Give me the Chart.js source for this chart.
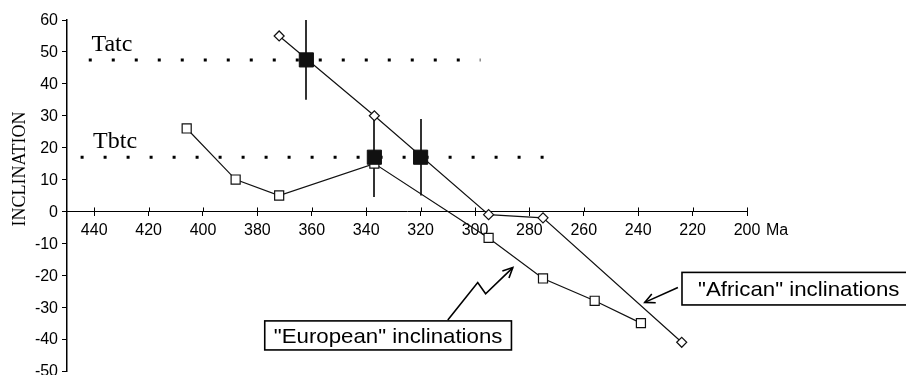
<!DOCTYPE html>
<html><head><meta charset="utf-8">
<script src="https://cdn.jsdelivr.net/npm/chart.js@4/dist/chart.umd.min.js"></script>
<style>html,body{margin:0;padding:0;background:#fff;}</style>
</head><body>
<canvas id="c" width="906" height="375" style="width:906px;height:375px;display:block"></canvas>
<script>
// ---- data ----
const europeanAge = [406, 388, 372, 337, 295, 275, 256, 239];
const europeanInc = [26, 10, 5, 15, -8.3, -21, -28, -35];
const africanAge = [372, 337, 295, 275, 224];
const africanInc = [55, 30, -1, -2, -41];
const poleAge = [362, 337, 320];
const poleInc = [47.5, 17, 17];
const poleErr = [12.5, 12.5, 12];
const refNames = ['Tatc', 'Tbtc'];
const refInc = [47.5, 17];
const refFrom = [442, 445];
const refTo = [298, 268];
const refLabelAge = [441, 440.4];
const xAxisUnit = 'Ma';
const yAxisTitle = 'INCLINATION';
const noteTexts = ['"European" inclinations', '"African" inclinations'];
// note boxes in data coordinates [ageLeft, ageRight, incTop, incBottom]
const noteBoxes = [[377.3, 286.6, -34.3, -43.4], [223.9, 140, -19.1, -29.3]];
const notePads = [9, 16];
const noteArrows = [
  [[310, -34], [299, -22.3], [296.1, -25.8], [286.1, -17.6]],
  [[225.4, -23.8], [237.6, -28.5]]
];

const pts = (xs, ys) => xs.map((x, i) => ({x, y: ys[i]}));
const SANS = "'Liberation Sans', Arial, sans-serif";
const SERIF = "'Liberation Serif', 'Times New Roman', serif";

const datasets = [
  {data: pts(poleAge, poleInc), showLine: false, pointStyle: 'rect', pointRadius: 10, pointHoverRadius: 10,
   backgroundColor: '#111', borderColor: '#111', borderWidth: 1},
  {data: pts(africanAge, africanInc), showLine: true, pointStyle: 'rectRot', pointRadius: 5, pointHoverRadius: 5,
   backgroundColor: '#fff', borderColor: '#111', borderWidth: 1.2, pointBorderWidth: 1.2},
  {data: pts(europeanAge, europeanInc), showLine: true, pointStyle: 'rect', pointRadius: 6.4, pointHoverRadius: 6.4,
   backgroundColor: '#fff', borderColor: '#111', borderWidth: 1.2, pointBorderWidth: 1.2},
];
refNames.forEach((n, i) => {
  datasets.push({data: [{x: refFrom[i], y: refInc[i]}, {x: refTo[i], y: refInc[i]}], showLine: true,
    pointRadius: 0, borderColor: '#000', borderWidth: 3, borderDash: [3, 20], borderCapStyle: 'butt'});
});

function arrowHead(ctx, x1, y1, x2, y2, len, ang) {
  const a = Math.atan2(y2 - y1, x2 - x1);
  ctx.beginPath();
  ctx.moveTo(x2 - len * Math.cos(a - ang), y2 - len * Math.sin(a - ang));
  ctx.lineTo(x2, y2);
  ctx.lineTo(x2 - len * Math.cos(a + ang), y2 - len * Math.sin(a + ang));
  ctx.stroke();
}

const deco = {
  id: 'deco',
  beforeDatasetsDraw(chart) {
    const {ctx, scales: {x, y}} = chart;
    ctx.save();
    ctx.strokeStyle = '#333';
    ctx.lineWidth = 2;
    poleAge.forEach((a, i) => {
      const px = Math.round(x.getPixelForValue(a));
      ctx.beginPath();
      ctx.moveTo(px, y.getPixelForValue(poleInc[i] + poleErr[i]));
      ctx.lineTo(px, y.getPixelForValue(poleInc[i] - poleErr[i]));
      ctx.stroke();
    });
    ctx.restore();
  },
  afterDraw(chart) {
    const {ctx, scales: {x, y}} = chart;
    ctx.save();
    const y0 = y.getPixelForValue(0);
    // upward halves of x tick marks
    ctx.strokeStyle = '#000';
    ctx.lineWidth = 1;
    x.ticks.forEach(t => {
      const px = Math.round(x.getPixelForValue(t.value)) + 0.5;
      ctx.beginPath(); ctx.moveTo(px, y0 - 4); ctx.lineTo(px, y0); ctx.stroke();
    });
    // y tick labels
    ctx.fillStyle = '#000';
    ctx.font = '16px ' + SANS;
    ctx.textAlign = 'right';
    ctx.textBaseline = 'middle';
    y.ticks.forEach(t => {
      ctx.fillText(String(t.value), y.right - 9, y.getPixelForValue(t.value) + 1);
    });
    // unit
    ctx.textAlign = 'left';
    ctx.fillText(xAxisUnit, x.getPixelForValue(200) + 19, y0 + 4 + 6 + 9.6);
    // reference line labels
    ctx.font = '24px ' + SERIF;
    ctx.textBaseline = 'alphabetic';
    refNames.forEach((n, i) => {
      ctx.fillText(n, x.getPixelForValue(refLabelAge[i]), y.getPixelForValue(refInc[i]) - 9);
    });
    // y title
    ctx.save();
    ctx.translate(20, 169);
    ctx.rotate(-Math.PI / 2);
    ctx.font = '18px ' + SERIF;
    ctx.textAlign = 'center';
    ctx.textBaseline = 'middle';
    ctx.fillText(yAxisTitle, 0, 0);
    ctx.restore();
    // notes
    ctx.font = '21px ' + SANS;
    const b0 = noteBoxes[0];
    const w0 = x.getPixelForValue(b0[1]) - x.getPixelForValue(b0[0]) - 2 * notePads[0];
    const sx = w0 / ctx.measureText(noteTexts[0]).width;
    noteBoxes.forEach((b, i) => {
      const l = x.getPixelForValue(b[0]), r = x.getPixelForValue(b[1]);
      const t = y.getPixelForValue(b[2]), btm = y.getPixelForValue(b[3]);
      ctx.fillStyle = '#fff';
      ctx.fillRect(l, t, r - l, btm - t);
      ctx.strokeStyle = '#000';
      ctx.lineWidth = 1.6;
      ctx.strokeRect(l, t, r - l, btm - t);
      ctx.save();
      ctx.translate(l + notePads[i], (t + btm) / 2 + 7.5);
      ctx.scale(sx, 1);
      ctx.fillStyle = '#000';
      ctx.textAlign = 'left';
      ctx.textBaseline = 'alphabetic';
      ctx.fillText(noteTexts[i], 0, 0);
      ctx.restore();
    });
    ctx.strokeStyle = '#000';
    ctx.lineWidth = 1.6;
    ctx.lineJoin = 'miter';
    noteArrows.forEach(path => {
      const p = path.map(([a, v]) => [x.getPixelForValue(a), y.getPixelForValue(v)]);
      ctx.beginPath();
      p.forEach(([px, py], k) => k ? ctx.lineTo(px, py) : ctx.moveTo(px, py));
      ctx.stroke();
      const n = p.length;
      arrowHead(ctx, p[n - 2][0], p[n - 2][1], p[n - 1][0], p[n - 1][1], 11, 0.45);
    });
    ctx.restore();
  }
};

new Chart(document.getElementById('c'), {
  type: 'scatter',
  data: {datasets},
  options: {
    responsive: false,
    animation: false,
    devicePixelRatio: 1,
    layout: {autoPadding: false, padding: {left: 0, top: 20, right: 159, bottom: 4}},
    plugins: {legend: {display: false}, tooltip: {enabled: false}},
    scales: {
      x: {
        type: 'linear', reverse: true, min: 200, max: 450,
        position: {y: 0},
        ticks: {stepSize: 20, includeBounds: false, color: '#000', padding: 6, maxRotation: 0,
                font: {family: SANS, size: 16}},
        grid: {display: true, drawOnChartArea: false, drawTicks: true, tickLength: 4, color: '#000', lineWidth: 1},
        border: {display: true, color: '#000', width: 1}
      },
      y: {
        type: 'linear', min: -50, max: 60,
        position: 'left',
        ticks: {stepSize: 10, display: false},
        grid: {display: true, drawOnChartArea: false, drawTicks: true, tickLength: 5, color: '#000', lineWidth: 1},
        border: {display: true, color: '#000', width: 1.5},
        afterFit(s) { s.width = 67; }
      }
    }
  },
  plugins: [deco]
});
</script>
</body></html>
